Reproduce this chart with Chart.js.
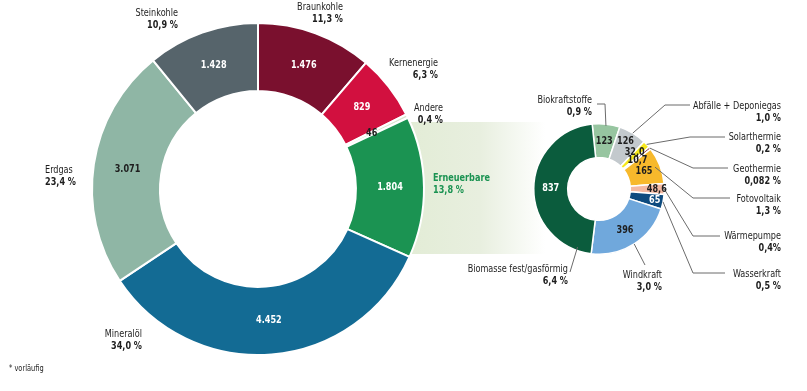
<!DOCTYPE html>
<html>
<head>
<meta charset="utf-8">
<script src="https://cdn.jsdelivr.net/npm/chart.js@4.4.1/dist/chart.umd.min.js"></script>
<style>
html, body { margin: 0; padding: 0; background: #fff; }
#wrap { position: relative; width: 807px; height: 391px; }
#wrap canvas { position: absolute; left: 0; top: 0; }
</style>
</head>
<body>
<div id="wrap">
  <canvas id="main" width="807" height="391"></canvas>
  <canvas id="renew" width="807" height="391"></canvas>
</div>
<script>
// Primärenergieverbrauch (PJ), Anteile in %
var mainLabels = ['Braunkohle', 'Kernenergie', 'Andere', 'Erneuerbare', 'Mineralöl', 'Erdgas', 'Steinkohle'];
var mainValues = [1476, 829, 46, 1804, 4452, 3071, 1428];
var mainShares = ['11,3 %', '6,3 %', '0,4 %', '13,8 %', '34,0 %', '23,4 %', '10,9 %'];
var mainColors = ['#7a102e', '#d2103f', '#d9e6cf', '#1b9352', '#136b94', '#8fb6a5', '#56646b'];

// Erneuerbare aufgeteilt
var renewLabels = ['Biokraftstoffe', 'Abfälle + Deponiegas', 'Solarthermie', 'Geothermie', 'Fotovoltaik',
    'Wärmepumpe', 'Wasserkraft', 'Windkraft', 'Biomasse fest/gasförmig'];
var renewValues = [123, 126, 32.0, 10.7, 165, 48.6, 65, 396, 837];
var renewDecimals = [0, 0, 1, 1, 0, 1, 0, 0, 0];
var renewShares = ['0,9 %', '1,0 %', '0,2 %', '0,082 %', '1,3 %', '0,4%', '0,5 %', '3,0 %', '6,4 %'];
var renewColors = ['#97c5a0', '#c3c9cd', '#f7e81c', '#7a1a2e', '#f7b92c', '#f3b9a2', '#0e4b7f', '#70a8dc', '#0b5c3d'];

var FONT = '"Liberation Sans Narrow", "DejaVu Sans Condensed", "Open Sans", sans-serif';
var TEXT = '#1e1e1e';
var SQUEEZE = 0.82; // reference type is narrower than what is installed

function fmt(v, dec) {
    return v.toLocaleString('de-DE', {minimumFractionDigits: dec || 0, maximumFractionDigits: dec || 0});
}

function narrowText(ctx, text, x, y) {
    ctx.save();
    ctx.translate(x, y);
    ctx.scale(SQUEEZE, 1);
    ctx.fillText(text, 0, 0);
    ctx.restore();
}

function arcPoint(arc, at, rf) {
    var p = arc.getProps(['x', 'y', 'startAngle', 'endAngle', 'innerRadius', 'outerRadius'], true);
    var a = p.startAngle + (p.endAngle - p.startAngle) * at;
    var r = p.innerRadius + (p.outerRadius - p.innerRadius) * rf;
    return {x: p.x + Math.cos(a) * r, y: p.y + Math.sin(a) * r};
}

// labels inside slices, names + shares outside, optional leader lines
var labelPlugin = {
    id: 'sliceLabels',
    afterDatasetsDraw: function (chart, args, opts) {
        var ctx = chart.ctx;
        var meta = chart.getDatasetMeta(0);
        var values = chart.data.datasets[0].data;
        ctx.save();

        // leader lines
        ctx.strokeStyle = '#6b6b6b';
        ctx.lineWidth = 1;
        (opts.leaders || []).forEach(function (l, i) {
            if (!l) return;
            var s = arcPoint(meta.data[i], l.at, l.r);
            ctx.beginPath();
            ctx.moveTo(s.x, s.y);
            l.pts.forEach(function (p) { ctx.lineTo(p[0], p[1]); });
            ctx.stroke();
        });

        // values inside the ring
        ctx.textAlign = 'center';
        ctx.textBaseline = 'middle';
        ctx.font = 'bold 11px ' + FONT;
        meta.data.forEach(function (arc, i) {
            var at = opts.valueAt ? opts.valueAt[i] : 0.5;
            var p = arcPoint(arc, at, opts.valueRadius[i]);
            ctx.fillStyle = opts.valueColors[i];
            narrowText(ctx, fmt(values[i], opts.decimals ? opts.decimals[i] : 0), p.x, p.y);
        });

        // outside names and shares
        chart.data.labels.forEach(function (name, i) {
            var pos = opts.positions[i];
            ctx.textAlign = pos.align;
            ctx.fillStyle = pos.color || TEXT;
            ctx.font = (pos.color ? 'bold ' : '') + '11px ' + FONT;
            narrowText(ctx, name, pos.x, pos.y);
            ctx.font = 'bold 11px ' + FONT;
            narrowText(ctx, opts.shares[i], pos.x, pos.y + 12);
        });
        ctx.restore();
    }
};

// pale band linking the two rings
var bandPlugin = {
    id: 'band',
    beforeDatasetsDraw: function (chart) {
        var ctx = chart.ctx;
        var g = ctx.createLinearGradient(400, 0, 545, 0);
        g.addColorStop(0, '#e2ecd5');
        g.addColorStop(0.55, '#e8efdf');
        g.addColorStop(1, '#ffffff');
        ctx.save();
        ctx.fillStyle = g;
        ctx.fillRect(380, 122, 165, 132);
        ctx.restore();
    }
};

var footPlugin = {
    id: 'foot',
    afterDraw: function (chart) {
        var ctx = chart.ctx;
        ctx.save();
        ctx.font = '9px ' + FONT;
        ctx.fillStyle = TEXT;
        ctx.textBaseline = 'middle';
        ctx.textAlign = 'left';
        narrowText(ctx, '* vorläufig', 9, 369);
        ctx.restore();
    }
};

new Chart(document.getElementById('main'), {
    type: 'doughnut',
    data: {
        labels: mainLabels,
        datasets: [{
            data: mainValues,
            backgroundColor: mainColors,
            borderColor: '#ffffff',
            borderWidth: 2
        }]
    },
    options: {
        responsive: false,
        animation: false,
        cutout: '59%',
        layout: {padding: {left: 91, right: 382, top: 22, bottom: 35}},
        plugins: {
            legend: {display: false},
            tooltip: {enabled: false},
            sliceLabels: {
                shares: mainShares,
                valueColors: ['#fff', '#fff', TEXT, '#fff', '#fff', TEXT, '#fff'],
                valueRadius: [0.5, 0.5, 0.42, 0.5, 0.5, 0.5, 0.5],
                positions: [
                    {x: 343, y: 7, align: 'right'},
                    {x: 438, y: 63, align: 'right'},
                    {x: 443, y: 108, align: 'right'},
                    {x: 433, y: 178, align: 'left', color: '#1b9352'},
                    {x: 142, y: 334, align: 'right'},
                    {x: 45, y: 170, align: 'left'},
                    {x: 178, y: 13, align: 'right'}
                ]
            }
        }
    },
    plugins: [bandPlugin, labelPlugin, footPlugin]
});

new Chart(document.getElementById('renew'), {
    type: 'doughnut',
    data: {
        labels: renewLabels,
        datasets: [{
            data: renewValues,
            backgroundColor: renewColors,
            borderColor: '#ffffff',
            borderWidth: 1.5
        }]
    },
    options: {
        responsive: false,
        animation: false,
        cutout: '48%',
        rotation: -6,
        layout: {padding: {left: 533, right: 142, top: 123, bottom: 136}},
        plugins: {
            legend: {display: false},
            tooltip: {enabled: false},
            sliceLabels: {
                shares: renewShares,
                decimals: renewDecimals,
                valueColors: [TEXT, TEXT, TEXT, TEXT, TEXT, TEXT, '#fff', TEXT, '#fff'],
                valueAt: [0.5, 0.42, 0.0, 1.3, 0.5, 0.5, 0.5, 0.5, 0.5],
                valueRadius: [0.5, 0.68, 0.6, 0.5, 0.5, 0.78, 0.75, 0.5, 0.5],
                positions: [
                    {x: 592, y: 100, align: 'right'},
                    {x: 781, y: 106, align: 'right'},
                    {x: 781, y: 137, align: 'right'},
                    {x: 781, y: 169, align: 'right'},
                    {x: 781, y: 199, align: 'right'},
                    {x: 781, y: 236, align: 'right'},
                    {x: 781, y: 274, align: 'right'},
                    {x: 662, y: 275, align: 'right'},
                    {x: 568, y: 269, align: 'right'}
                ],
                leaders: [
                    {at: 0.5, r: 0.95, pts: [[605, 104], [597, 104]]},
                    {at: 0.5, r: 1.0, pts: [[665, 105], [690, 105]]},
                    {at: 0.5, r: 1.0, pts: [[690, 137], [725, 137]]},
                    {at: 0.5, r: 1.0, pts: [[693, 168], [728, 168]]},
                    {at: 0.5, r: 0.85, pts: [[693, 198], [730, 198]]},
                    {at: 0.5, r: 1.0, pts: [[693, 236], [720, 236]]},
                    {at: 0.5, r: 1.0, pts: [[693, 273], [725, 273]]},
                    {at: 0.5, r: 1.0, pts: [[645, 265]]},
                    {at: 0.08, r: 0.9, pts: [[570, 272]]}
                ]
            }
        }
    },
    plugins: [labelPlugin]
});
</script>
</body>
</html>
